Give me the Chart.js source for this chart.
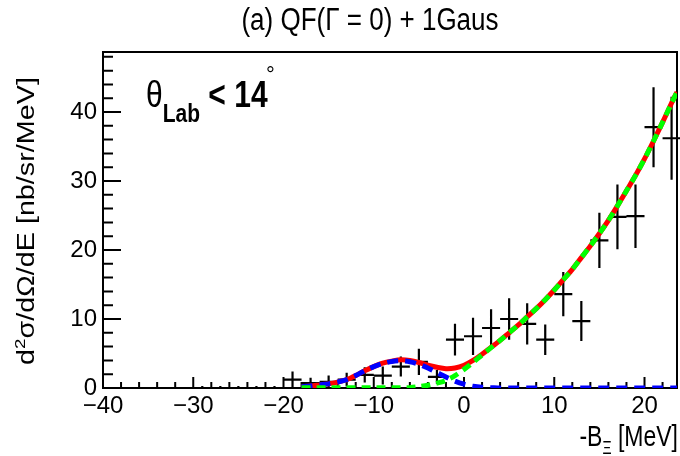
<!DOCTYPE html>
<html>
<head>
<meta charset="utf-8">
<script src="https://cdn.jsdelivr.net/npm/chart.js@4.4.1/dist/chart.umd.min.js"></script>
<style>
  html, body { margin: 0; padding: 0; background: #fff; }
  #wrap { width: 680px; height: 456px; }
</style>
</head>
<body>
<div id="wrap"><canvas id="c" width="680" height="456"></canvas></div>
<script>
// ── axis ticks ─────────────────────────────────────────
const xTicks = [-40, -30, -20, -10, 0, 10, 20];
const yTicks = [0, 10, 20, 30, 40];
const X_MIN = -40, X_MAX = 23.6, Y_MAX = 48.7;

// ── data points (2 MeV bins) ───────────────────────────
const binX   = [-39, -37, -35, -33, -31, -29, -27, -25, -23, -21, -19, -17, -15, -13, -11, -9,
                -7, -5, -3, -1, 1, 3, 5, 7, 9, 11, 13, 15, 17, 19, 21, 23];
const binY   = [0, 0, 0, 0, 0, 0, 0, 0, 0, 0, 1.2, 0.7, 0.9, 1.2, 1.9, 1.8,
                3.1, 3.8, 1.6, 7.0, 7.5, 8.7, 10.0, 9.3, 7.0, 13.6, 9.7, 21.4, 24.8, 24.9, 37.8, 36.2];
const binErr = [0, 0, 0, 0, 0, 0.3, 0.3, 0.3, 0.3, 0.3, 1.2, 0.8, 0.9, 1.0, 1.1, 1.3,
                1.45, 1.9, 1.0, 2.3, 2.7, 2.7, 3.0, 3.0, 2.2, 3.2, 2.9, 4.0, 4.7, 4.6, 5.8, 6.0];

// ── fit curves ─────────────────────────────────────────
const curveX = [-18, -17, -16, -15, -14, -13, -12, -11, -10, -9, -8, -7, -6, -5, -4, -3, -2, -1,
                0, 1, 2, 3, 4, 5, 6, 7, 8, 9, 10, 11, 12, 13, 14, 15, 16, 17, 18, 19, 20, 21, 22, 23, 23.6];
const totalY = [0.2, 0.3, 0.45, 0.6, 0.85, 1.2, 1.8, 2.5, 3.1, 3.6, 3.9, 4.1, 4.0, 3.7, 3.3, 3.0, 2.8, 2.9,
                3.3, 4.0, 4.9, 5.9, 6.9, 8.0, 9.1, 10.3, 11.5, 12.8, 14.2, 15.7, 17.2, 18.9, 20.6, 22.4,
                24.3, 26.4, 28.6, 30.8, 33.2, 35.8, 38.5, 41.3, 42.9];
const qfY    = [0.05, 0.05, 0.05, 0.05, 0.05, 0.05, 0.05, 0.05, 0.05, 0.05, 0.05, 0.05, 0.05,
                0.2, 0.4, 0.7, 1.1, 1.8, 2.7, 3.7, 4.8, 5.85,
                6.9, 8.0, 9.1, 10.3, 11.5, 12.8, 14.2, 15.7, 17.2, 18.9, 20.6, 22.4,
                24.3, 26.4, 28.6, 30.8, 33.2, 35.8, 38.5, 41.3, 42.9];
const gausY  = [0.2, 0.3, 0.45, 0.6, 0.85, 1.2, 1.8, 2.5, 3.1, 3.55, 3.85, 3.95, 3.8, 3.45, 2.9, 2.25,
                1.6, 1.0, 0.55, 0.25, 0.1, 0.05,
                0, 0, 0, 0, 0, 0, 0, 0, 0, 0, 0, 0, 0, 0, 0, 0, 0, 0, 0, 0, 0];

const pts = ys => curveX.map((x, i) => ({ x, y: ys[i] }));
const fmt = v => (v < 0 ? '\u2212' + Math.abs(v) : String(v));
const SANS = "'Liberation Sans', Arial, sans-serif";

// draw a run of text pieces (with sub/superscripts), stretched vertically like the ROOT output
function rich(ctx, parts, x, y, align, sy) {
  let total = 0;
  parts.forEach(p => { ctx.font = p.font; total += ctx.measureText(p.t).width; });
  let cx = align === 'center' ? -total / 2 : align === 'right' ? -total : 0;
  ctx.save();
  ctx.translate(x, y);
  ctx.scale(1, sy);
  ctx.fillStyle = '#000';
  ctx.textBaseline = 'alphabetic';
  ctx.textAlign = 'left';
  parts.forEach(p => {
    ctx.font = p.font;
    ctx.fillText(p.t, cx, p.dy || 0);
    cx += ctx.measureText(p.t).width;
  });
  ctx.restore();
}

const rootFrame = {
  id: 'rootFrame',
  beforeDatasetsDraw(chart) {
    const { ctx, chartArea: a, scales: { x, y } } = chart;
    ctx.save();
    ctx.strokeStyle = '#000';
    ctx.lineWidth = 2;
    ctx.strokeRect(a.left, a.top, a.right - a.left, a.bottom - a.top);

    // ticks inside the frame
    ctx.beginPath();
    for (let v = X_MIN; v <= X_MAX; v += 2) {
      const px = x.getPixelForValue(v);
      ctx.moveTo(px, a.bottom);
      ctx.lineTo(px, a.bottom - (v % 10 === 0 ? 11 : 6));
    }
    for (let v = 0; v <= Y_MAX; v += 2) {
      const py = y.getPixelForValue(v);
      ctx.moveTo(a.left, py);
      ctx.lineTo(a.left + (v % 10 === 0 ? 18 : 10), py);
    }
    ctx.stroke();

    // data crosses: bin width horizontally, stat error vertically
    ctx.lineWidth = 2.2;
    ctx.beginPath();
    binX.forEach((bx, i) => {
      const yc = y.getPixelForValue(binY[i]);
      const xc = x.getPixelForValue(bx);
      ctx.moveTo(x.getPixelForValue(bx - 1), yc);
      ctx.lineTo(x.getPixelForValue(bx + 1), yc);
      if (binErr[i] > 0) {
        ctx.moveTo(xc, y.getPixelForValue(Math.max(0, binY[i] - binErr[i])));
        ctx.lineTo(xc, y.getPixelForValue(binY[i] + binErr[i]));
      }
    });
    ctx.stroke();
    ctx.restore();
  },
  afterDraw(chart) {
    const ctx = chart.ctx;
    // title
    rich(ctx, [{ t: '(a) QF(\u0393 = 0) + 1Gaus', font: '26px ' + SANS }], 370, 30, 'center', 1.2);
    // x title
    rich(ctx, [
      { t: '-B', font: '23px ' + SANS },
      { t: '\u039E', font: '14px ' + SANS, dy: 6 },
      { t: ' [MeV]', font: '23px ' + SANS }
    ], 678, 446, 'right', 1.25);
    // annotation
    rich(ctx, [
      { t: '\u03B8', font: '30px ' + SANS },
      { t: 'Lab', font: 'bold 21px ' + SANS, dy: 12 },
      { t: ' < 14', font: 'bold 30px ' + SANS }
    ], 146, 107, 'left', 1.25);
    rich(ctx, [{ t: '\u00B0', font: '22px ' + SANS }], 266, 82, 'left', 1.1);
    // y title (rotated, stretched along its length)
    ctx.save();
    ctx.translate(34, 221);
    ctx.rotate(-Math.PI / 2);
    ctx.scale(1.25, 1);
    rich(ctx, [
      { t: 'd', font: '23px ' + SANS },
      { t: '2', font: '15px ' + SANS, dy: -9 },
      { t: '\u03C3/d\u03A9/dE [nb/sr/MeV]', font: '23px ' + SANS }
    ], 0, 0, 'center', 1);
    ctx.restore();
  }
};

Chart.defaults.font.family = "'Liberation Sans Narrow', " + SANS;

new Chart(document.getElementById('c'), {
  type: 'line',
  data: {
    datasets: [
      { label: 'QF', data: pts(qfY), borderColor: '#00ff00', borderWidth: 5, borderDash: [9, 6],
        pointRadius: 0, tension: 0.3, fill: false },
      { label: 'Gaus', data: pts(gausY), borderColor: '#0000ff', borderWidth: 5, borderDash: [11, 7],
        pointRadius: 0, tension: 0.3, fill: false },
      { label: 'Total', data: pts(totalY), borderColor: '#ff0000', borderWidth: 5,
        pointRadius: 0, tension: 0.3, fill: false }
    ]
  },
  options: {
    responsive: false,
    animation: false,
    events: [],
    layout: { padding: { top: 52, right: 3, left: 0, bottom: 0 } },
    plugins: { legend: { display: false }, tooltip: { enabled: false } },
    scales: {
      x: {
        type: 'linear', min: X_MIN, max: X_MAX,
        grid: { display: false, drawTicks: false }, border: { display: false },
        afterBuildTicks: s => { s.ticks = xTicks.map(v => ({ value: v })); },
        afterFit: s => { s.height = 68; },
        ticks: { color: '#000', font: { size: 24 }, padding: 4, maxRotation: 0, autoSkip: false, callback: fmt }
      },
      y: {
        type: 'linear', min: 0, max: Y_MAX,
        grid: { display: false, drawTicks: false }, border: { display: false },
        afterBuildTicks: s => { s.ticks = yTicks.map(v => ({ value: v })); },
        afterFit: s => { s.width = 103; },
        ticks: { color: '#000', font: { size: 24 }, padding: 6, autoSkip: false, callback: fmt }
      }
    }
  },
  plugins: [rootFrame]
});
</script>
</body>
</html>
